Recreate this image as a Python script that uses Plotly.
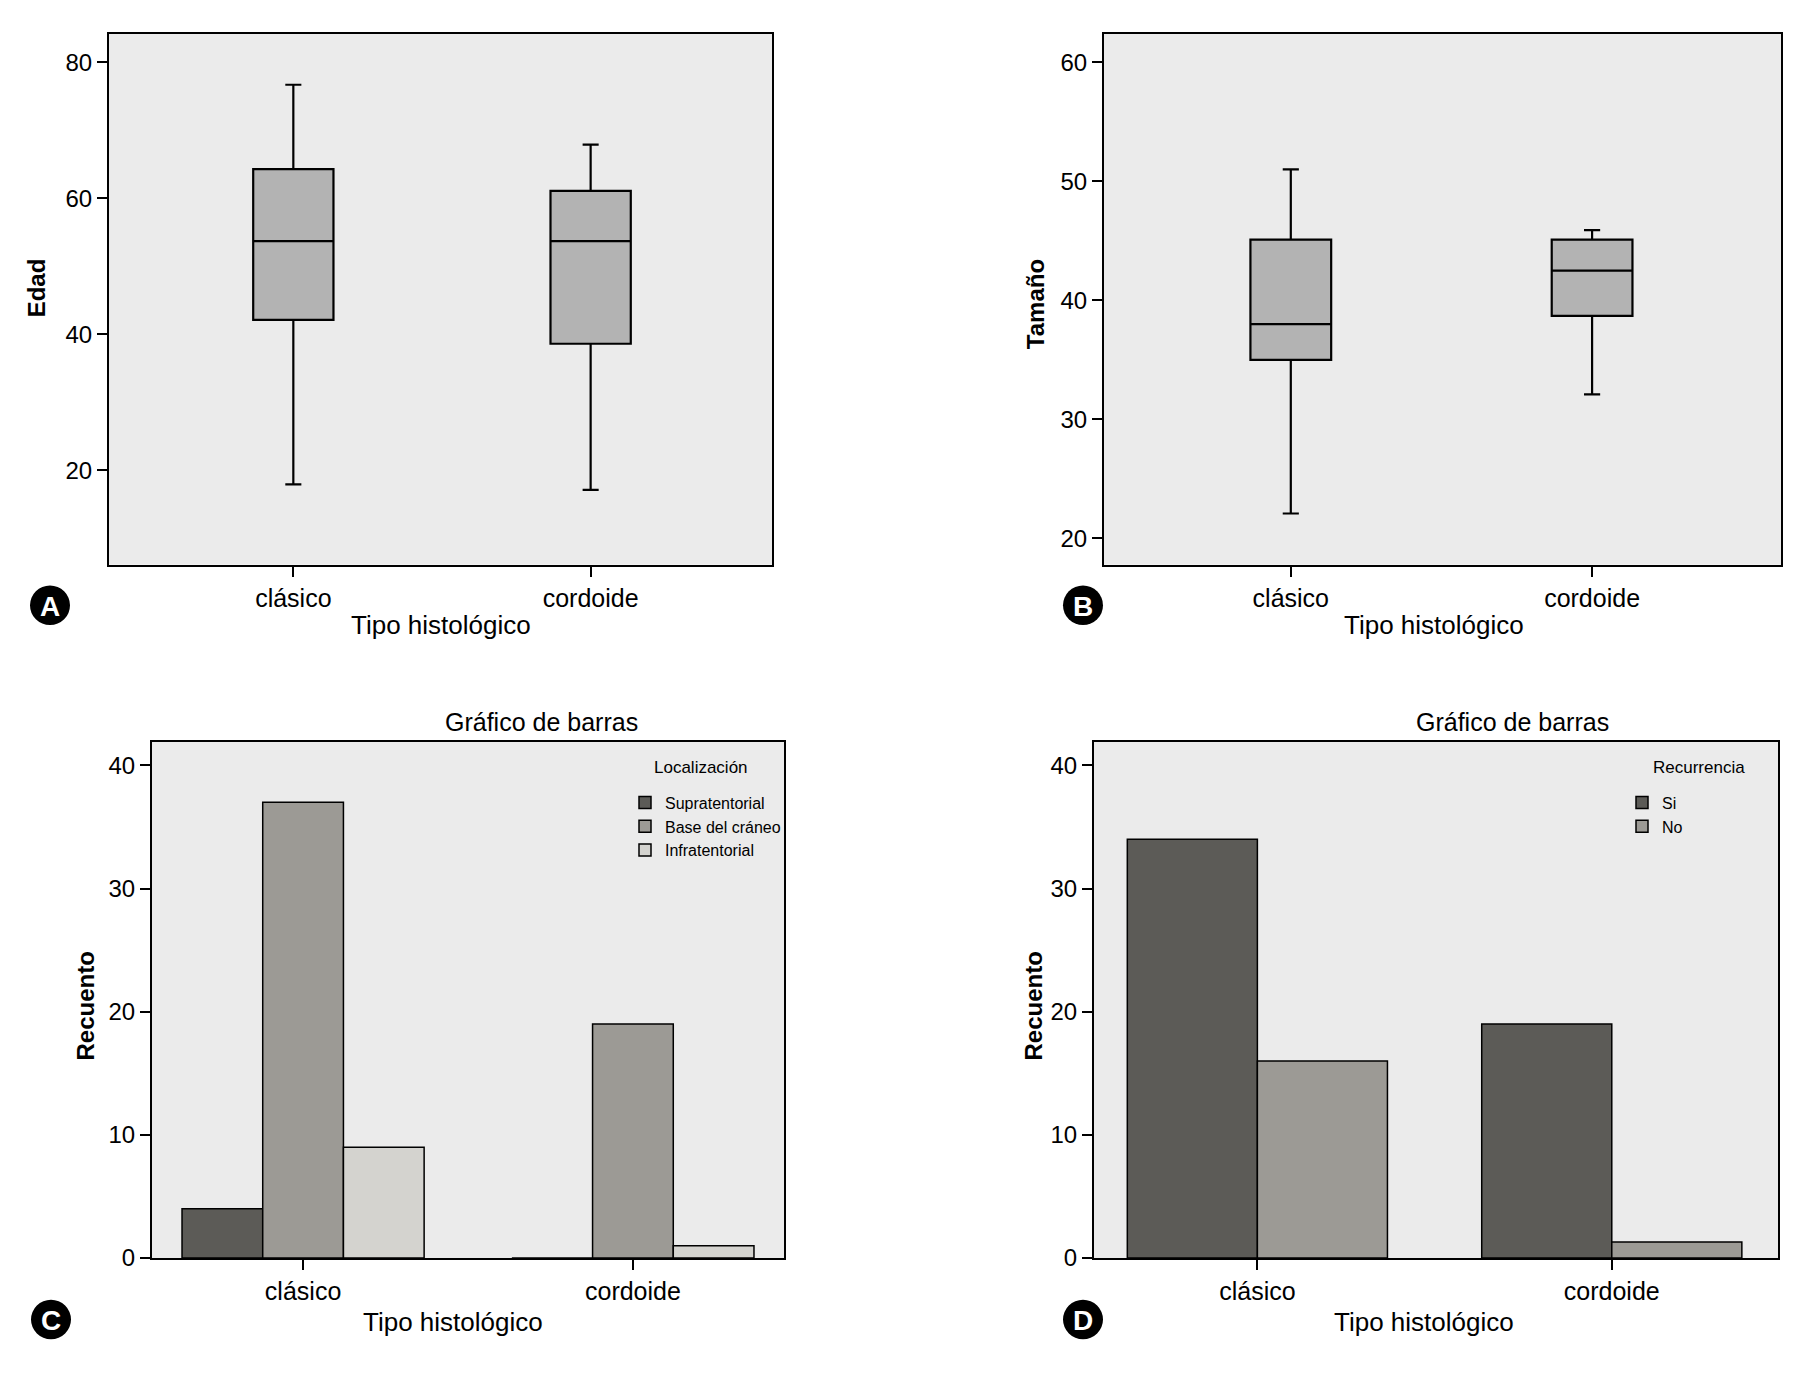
import plotly.graph_objects as go
from plotly.subplots import make_subplots

W, H = 1816, 1391
OFF = 8  # margen por defecto del <body> de la página
FW, FH = W - 2 * OFF, H - 2 * OFF
FONT = "Liberation Sans, Arial, Helvetica, sans-serif"

# categorías del eje x (común a los cuatro paneles)
tipos = ["clásico", "cordoide"]

# A: Edad (resumen de las cajas)
edad_low = [17.9, 17.1]
edad_q1 = [42.1, 38.6]
edad_median = [53.7, 53.7]
edad_q3 = [64.3, 61.1]
edad_high = [76.7, 67.9]

# B: Tamaño
tam_low = [22.1, 32.1]
tam_q1 = [35.0, 38.7]
tam_median = [38.0, 42.5]
tam_q3 = [45.1, 45.1]
tam_high = [51.0, 45.9]

# C: Recuento por localización
loc_names = ["Supratentorial", "Base del cráneo", "Infratentorial"]
loc_counts = [[4, 0], [37, 19], [9, 1]]

# D: Recuento por recurrencia
rec_names = ["Si", "No"]
rec_counts = [[34, 19], [16, 1.3]]

box_fill = "#b3b3b3"
loc_colors = ["#5c5b57", "#9c9a95", "#d4d3cf"]
rec_colors = ["#5c5b57", "#9c9a95"]


def px(x):
    return (x - OFF) / FW


def py(y):
    return 1 - (y - OFF) / FH


fig = make_subplots(rows=2, cols=2)

fig.add_trace(go.Box(
    x=tipos, q1=edad_q1, median=edad_median, q3=edad_q3,
    lowerfence=edad_low, upperfence=edad_high,
    width=0.27, whiskerwidth=0.2, fillcolor=box_fill,
    line=dict(color="black", width=2.2), showlegend=False,
), row=1, col=1)

fig.add_trace(go.Box(
    x=tipos, q1=tam_q1, median=tam_median, q3=tam_q3,
    lowerfence=tam_low, upperfence=tam_high,
    width=0.268, whiskerwidth=0.2, fillcolor=box_fill,
    line=dict(color="black", width=2.2), showlegend=False,
), row=1, col=2)

for name, vals, col in zip(loc_names, loc_counts, loc_colors):
    fig.add_trace(go.Bar(
        x=tipos, y=vals, name=name, legend="legend",
        marker=dict(color=col, line=dict(color="black", width=1.5)),
    ), row=2, col=1)

for name, vals, col in zip(rec_names, rec_counts, rec_colors):
    fig.add_trace(go.Bar(
        x=tipos, y=vals, name=name, legend="legend2",
        marker=dict(color=col, line=dict(color="black", width=1.5)),
    ), row=2, col=2)

axis_style = dict(
    showline=True, linecolor="black", linewidth=2, mirror=True,
    ticks="outside", ticklen=10, tickwidth=2, tickcolor="black",
    showgrid=False, zeroline=False,
    tickfont=dict(family=FONT, size=24, color="black"),
)

# marco de cada panel en px de la página
frames = {
    (1, 1): ((109, 772), (34, 570)),
    (1, 2): ((1104, 1781), (34, 570)),
    (2, 1): ((152, 784), (749, 1270)),
    (2, 2): ((1094, 1778), (749, 1270)),
}
xranges = {(1, 1): [-0.62, 1.61], (1, 2): [-0.62, 1.627],
           (2, 1): [-0.458, 1.458], (2, 2): [-0.461, 1.469]}
yranges = {(1, 1): [6.1, 84.2], (1, 2): [17.8, 62.4],
           (2, 1): [0, 41.9], (2, 2): [0, 41.9]}
ydticks = {(1, 1): 20, (1, 2): 10, (2, 1): 10, (2, 2): 10}

for (r, c), ((x0, x1), (y0, y1)) in frames.items():
    fig.update_xaxes(axis_style, domain=[px(x0), px(x1)], type="category",
                     range=xranges[(r, c)], row=r, col=c)
    fig.update_xaxes(tickfont=dict(size=25), row=r, col=c)
    fig.update_yaxes(axis_style, domain=[py(y1), py(y0)],
                     range=yranges[(r, c)], dtick=ydticks[(r, c)],
                     tick0=0, row=r, col=c)


def note(text, x, y, size, color="black", angle=0):
    return dict(text=text, x=px(x), y=py(y), xref="paper", yref="paper",
                xanchor="center", yanchor="middle", showarrow=False,
                textangle=angle, font=dict(family=FONT, size=size, color=color))


annotations = []
# títulos del eje x
for tx, ty in [(441, 631), (1434, 631), (453, 1335), (1424, 1335)]:
    annotations.append(note("Tipo histológico", tx, ty, 26))
# títulos del eje y
for txt, tx, ty in [("Edad", 36, 291), ("Tamaño", 1035, 307),
                    ("Recuento", 85, 1016), ("Recuento", 1033, 1016)]:
    annotations.append(note("<b>" + txt + "</b>", tx, ty, 24, angle=-90))
# títulos de los gráficos de barras
for tx in (541, 1512):
    annotations.append(note("Gráfico de barras", tx, 729, 25))
# títulos de las leyendas
annotations.append(note("Localización", 701, 775, 17))
annotations.append(note("Recurrencia", 1699, 775, 17))

# letras de los paneles
shapes = []
for letter, cx, cy in [("A", 50, 611), ("B", 1083, 611),
                       ("C", 51, 1332), ("D", 1083, 1332)]:
    shapes.append(dict(
        type="circle", xref="paper", yref="paper",
        x0=px(cx - 20), x1=px(cx + 20), y0=py(cy + 20), y1=py(cy - 20),
        fillcolor="black", line=dict(width=0),
    ))
    annotations.append(note("<b>" + letter + "</b>", cx, cy + 1, 28, "white"))

legend_style = dict(
    bgcolor="rgba(0,0,0,0)", borderwidth=0,
    font=dict(family=FONT, size=16, color="black"),
    xanchor="left", yanchor="top", tracegroupgap=0,
    itemclick=False, itemdoubleclick=False,
)

fig.update_layout(
    width=FW, height=FH,
    margin=dict(l=0, r=0, t=0, b=0),
    paper_bgcolor="white", plot_bgcolor="#ebebeb",
    barmode="group", bargap=0.266,
    font=dict(family=FONT, color="black"),
    legend=dict(legend_style, x=px(625), y=py(793)),
    legend2=dict(legend_style, x=px(1622), y=py(793)),
    annotations=annotations,
    shapes=shapes,
)

fig.write_html("out.html")
